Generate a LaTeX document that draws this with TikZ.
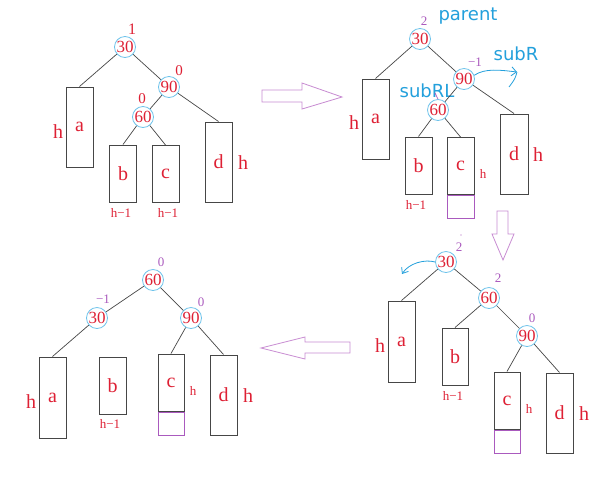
\documentclass[tikz,border=0pt]{standalone}
\usepackage{fontspec}
\setmainfont{Liberation Serif}
\newfontfamily\bluefont{DejaVu Sans}
\usetikzlibrary{arrows.meta}
\definecolor{tred}{RGB}{222,32,52}
\definecolor{tpurple}{RGB}{170,90,190}
\definecolor{tblue}{RGB}{35,160,220}
\definecolor{tcirc}{RGB}{110,195,235}
\definecolor{tline}{RGB}{70,70,70}
\definecolor{tarrow}{RGB}{200,140,210}
\begin{document}
\begin{tikzpicture}[x=1pt,y=-1pt,
 keynode/.style={circle,draw=tcirc,line width=0.8pt,minimum size=21pt,inner sep=0pt,text=tred,font=\fontsize{17}{17}\selectfont},
 treebox/.style={rectangle,draw=tline,line width=1pt,minimum width=27pt,inner sep=0pt,text=tred,font=\fontsize{20}{20}\selectfont},
 tallbox/.style={treebox,minimum height=80pt},
 shortbox/.style={treebox,minimum height=57pt},
 extrabox/.style={rectangle,draw=tpurple,line width=0.8pt,minimum width=27pt,minimum height=23pt,inner sep=0pt,anchor=north},
 edge/.style={draw=tline,line width=0.7pt},
 hbig/.style={text=tred,font=\fontsize{20}{20}\selectfont,inner sep=0pt},
 hsmall/.style={text=tred,font=\fontsize{13}{13}\selectfont,inner sep=0pt},
 redbal/.style={text=tred,font=\fontsize{16}{16}\selectfont,inner sep=0pt},
 bal/.style={text=tpurple,font=\fontsize{13}{13}\selectfont,inner sep=0pt},
 tag/.style={text=tblue,font=\bluefont\fontsize{18}{18}\selectfont,inner sep=0pt},
 hollow/.style={draw=tarrow,line width=0.8pt,line join=miter},
 rot/.style={draw=tblue,line width=0.8pt}
]
\useasboundingbox[fill=white] (0,0) rectangle (612,483);

% ---------- Panel 1 ----------
\node[keynode] (n1a) at (125,47) {30};
\node[keynode] (n1b) at (169,87) {90};
\node[keynode] (n1c) at (143,117) {60};
\node[redbal] (r1a) at (132,29) {1};
\node[redbal,font=\fontsize{15}{15}\selectfont] (r1b) at (179,71) {0};
\node[redbal,font=\fontsize{15}{15}\selectfont] (r1c) at (142,99) {0};
\node[tallbox] (a1) at (79.5,127) {a};
\node[shortbox] (b1) at (123,173.5) {b};
\node[shortbox] (c1) at (165.5,174) {c};
\node[tallbox] (d1) at (218.5,162) {d};
\node[hbig] (ha1) at (58,132) {h};
\node[hbig] (hd1) at (243,163) {h};
\node[hsmall] (hb1) at (121,213) {h−1};
\node[hsmall] (hc1) at (168,213) {h−1};
\draw[edge] (n1a) -- (a1.north);
\draw[edge] (n1a) -- (n1b);
\draw[edge] (n1b) -- (n1c);
\draw[edge] (n1c) -- (b1.north);
\draw[edge] (n1c) -- (c1.north);
\draw[edge] (n1b) -- (d1.north);

% ---------- Panel 2 ----------
\node[keynode] (n2a) at (420,39) {30};
\node[keynode] (n2b) at (464,79) {90};
\node[keynode] (n2c) at (438,110) {60};
\node[bal] (p2a) at (424,21) {2};
\node[bal] (p2b) at (475,62) {−1};
\node[tag] (t2a) at (468,16) {parent};
\node[tag] (t2b) at (516,54) {subR};
\node[tag] (t2c) at (427,91) {subRL};
\node[tallbox] (a2) at (375.5,119) {a};
\node[shortbox] (b2) at (418.5,165.5) {b};
\node[shortbox] (c2) at (460.5,166) {c};
\node[tallbox,minimum width=28pt] (d2) at (514,154) {d};
\node[extrabox] (c2x) at (c2.south) {};
\node[hbig] (ha2) at (354,123) {h};
\node[hbig] (hd2) at (538,155) {h};
\node[hsmall] (hb2) at (416,205) {h−1};
\node[hsmall] (hc2) at (483,174) {h};
\draw[edge] (n2a) -- (a2.north);
\draw[edge] (n2a) -- (n2b);
\draw[edge] (n2b) -- (n2c);
\draw[edge] (n2c) -- (b2.north);
\draw[edge] (n2c) -- (c2.north);
\draw[edge] (n2b) -- (d2.north);
\coordinate (ptick) at (435,93);
\draw[tpurple,line width=0.7pt] (ptick) -- (n2c.north);
\coordinate (rot2end) at (517,72);
\coordinate (rot2tail) at (509,87);
\draw[rot,-{Straight Barb[length=5pt,width=9pt]}] (n2b.20) .. controls (485,68) and (500,70) .. (rot2end);
\draw[rot] (rot2end) .. controls (515,79) .. (rot2tail);

% ---------- Panel 3 ----------
\node[keynode] (n3a) at (446,262) {30};
\node[keynode] (n3b) at (489,298) {60};
\node[keynode] (n3c) at (527,336) {90};
\node[bal] (p3a) at (459,247) {2};
\node[bal] (p3b) at (498,278) {2};
\node[bal] (p3c) at (532,318) {0};
\fill[tpurple] (461,235) circle (0.7pt);
\node[tallbox,minimum height=81pt] (a3) at (401.5,341.5) {a};
\node[shortbox,minimum width=26pt] (b3) at (455,356.5) {b};
\node[shortbox,minimum width=26pt] (c3) at (507,400.5) {c};
\node[tallbox] (d3) at (559.5,413) {d};
\node[extrabox,minimum width=26pt] (c3x) at (c3.south) {};
\node[hbig] (ha3) at (380,346) {h};
\node[hbig] (hd3) at (584,414) {h};
\node[hsmall] (hb3) at (453,396) {h−1};
\node[hsmall] (hc3) at (529,409) {h};
\draw[edge] (n3a) -- (a3.north);
\draw[edge] (n3a) -- (n3b);
\draw[edge] (n3b) -- (b3.north);
\draw[edge] (n3b) -- (n3c);
\draw[edge] (n3c) -- (c3.north);
\draw[edge] (n3c) -- (d3.north);
\coordinate (rot3end) at (402,274);
\draw[rot,-{Straight Barb[length=5pt,width=8pt]}] (n3a.west) .. controls (425,259) and (409,263) .. (rot3end);

% ---------- Panel 4 ----------
\node[keynode] (n4a) at (153,280) {60};
\node[keynode] (n4b) at (97,318) {30};
\node[keynode] (n4c) at (191,318) {90};
\node[bal] (p4a) at (161,262) {0};
\node[bal] (p4b) at (103,299) {−1};
\node[bal] (p4c) at (201,302) {0};
\node[tallbox,minimum height=81pt] (a4) at (52.5,397.5) {a};
\node[shortbox] (b4) at (112.5,385.5) {b};
\node[shortbox,minimum width=26pt] (c4) at (171,382.5) {c};
\node[tallbox] (d4) at (223.5,395) {d};
\node[extrabox,minimum width=26pt] (c4x) at (c4.south) {};
\node[hbig] (ha4) at (31,402) {h};
\node[hbig] (hd4) at (248,396) {h};
\node[hsmall] (hb4) at (110,424) {h−1};
\node[hsmall] (hc4) at (193,391) {h};
\draw[edge] (n4a) -- (n4b);
\draw[edge] (n4a) -- (n4c);
\draw[edge] (n4b) -- (a4.north);
\draw[edge] (n4c) -- (c4.north);
\draw[edge] (n4c) -- (d4.north);

% ---------- hollow arrows ----------
\draw[hollow] (262,90) -- (302,90) -- (302,83) -- (342,97) -- (302,109) -- (302,102) -- (262,102) -- cycle;
\draw[hollow] (497,211) -- (508,211) -- (508,234) -- (514,234) -- (503,260) -- (492,234) -- (497,234) -- cycle;
\draw[hollow] (350,342) -- (305,342) -- (305,337) -- (261,348) -- (305,359) -- (305,353) -- (350,353) -- cycle;
\end{tikzpicture}
\end{document}
